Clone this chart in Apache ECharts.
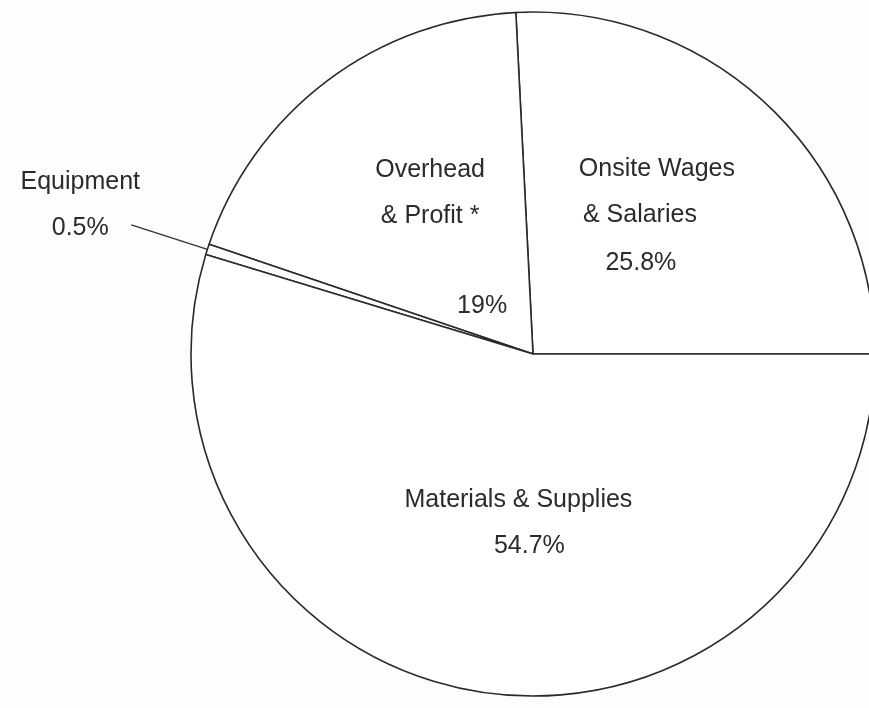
<!DOCTYPE html>
<html>
<head>
<meta charset="utf-8">
<script src="https://cdn.jsdelivr.net/npm/echarts@6/dist/echarts.min.js"></script>
<style>
html,body{margin:0;padding:0;background:#fdfdfd;}
#chart{width:869px;height:708px;}
</style>
</head>
<body>
<div id="chart"></div>
<script>
// Data
var categories = ['Onsite Wages\n& Salaries', 'Overhead\n& Profit *', 'Equipment', 'Materials & Supplies'];
var values = [25.8, 19, 0.5, 54.7];

// Label styling tweaks (offsets from the library's inside-label anchor)
var nameOffsets = [[4, -36], [2, -22], [0, 0], [11, -26]];
var pctOffsets = [[-12, 35], [54, 91], [0, 0], [22, 20]];

var chart = echarts.init(document.getElementById('chart'), null, {renderer: 'canvas'});

var font = {fontFamily: 'Liberation Sans, Arial, sans-serif', fontSize: 25, color: '#2b2b2b', lineHeight: 46};

var nameData = categories.map(function (c, i) {
  var d = {name: c, value: values[i]};
  if (i === 2) {
    d.label = Object.assign({position: 'outside', formatter: function (p) { return p.name + '\n' + p.value + '%'; }}, font);
    d.labelLine = {show: true, length: 80, length2: 0, lineStyle: {color: '#333', width: 1.3}};
  } else if (i === 0) {
    d.label = Object.assign({
      position: 'inside', offset: nameOffsets[i],
      formatter: function (p) {
        var parts = p.name.split('\n');
        return '{a|' + parts[0] + '}\n{b|' + parts[1] + '}';
      },
      rich: {
        a: Object.assign({}, font),
        b: Object.assign({padding: [0, 34, 0, 0]}, font)
      }
    }, font);
  } else {
    d.label = Object.assign({position: 'inside', offset: nameOffsets[i]}, font);
  }
  return d;
});

var pctData = categories.map(function (c, i) {
  var d = {name: c, value: values[i]};
  if (i === 2) {
    d.label = {show: false};
  } else {
    d.label = Object.assign({show: true, position: 'inside', offset: pctOffsets[i], formatter: function (p) { return p.value + '%'; }}, font);
  }
  return d;
});

var common = {
  type: 'pie',
  center: [533, 354],
  radius: 342,
  startAngle: 0,
  clockwise: false,
  avoidLabelOverlap: false,
  silent: true,
  animation: false
};

chart.setOption({
  backgroundColor: '#fdfdfd',
  series: [
    Object.assign({}, common, {
      itemStyle: {color: '#ffffff', borderColor: '#2a2a2a', borderWidth: 1.6},
      label: Object.assign({show: true, formatter: '{b}'}, font),
      labelLine: {show: false},
      labelLayout: function (p) {
        if (p.dataIndex === 2) { return {align: 'center', dx: -46, dy: -20}; }
        return {};
      },
      data: nameData
    }),
    Object.assign({}, common, {
      itemStyle: {color: 'rgba(0,0,0,0)', borderWidth: 0},
      labelLine: {show: false},
      data: pctData
    })
  ]
});
</script>
</body>
</html>
